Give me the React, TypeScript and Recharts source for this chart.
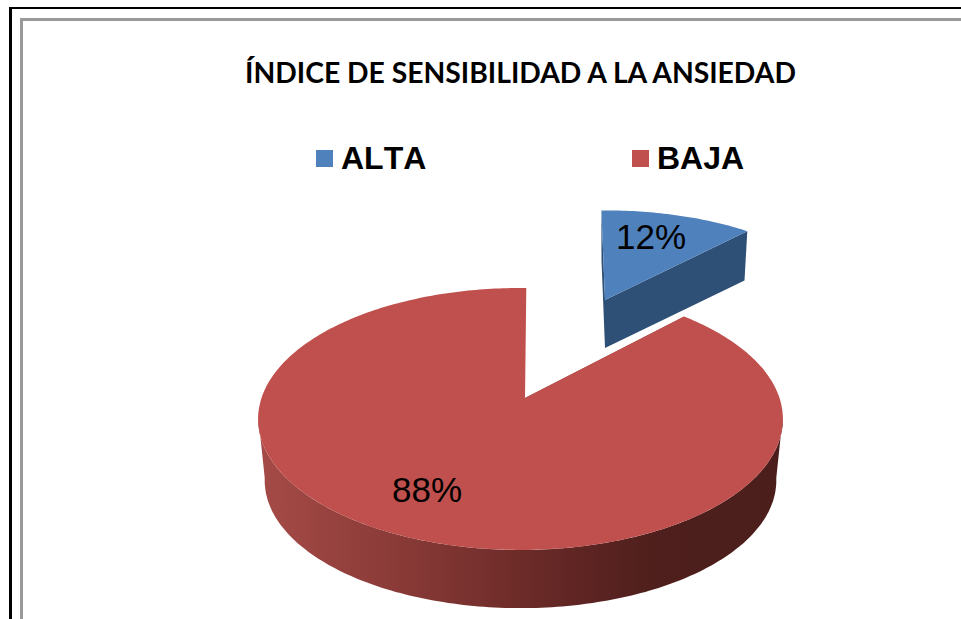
import React from 'react';
import { PieChart, Pie, Legend } from 'recharts';

const TITLE = 'ÍNDICE DE SENSIBILIDAD A LA ANSIEDAD';
const CATEGORIES = ['ALTA', 'BAJA'];
const VALUES = [12, 88];
const COLORS = ['#4F81BD', '#C0504D'];

const data = CATEGORIES.map((name, i) => ({ name, value: VALUES[i], fill: COLORS[i] }));

// fake 3D: perspective flattening of the circle, plus per slice tweaks
const TILT = 0.4927;
const PERSPECTIVE = 0.16;

interface SliceLook {
  dx: number;
  dy: number;
  scale: number;
  flatten: number;
  spin: number;
  apexDx: number;
  depth: number;
  depthScale: number;
  labelX: number;
  labelY: number;
}

const LOOK: Record<string, SliceLook> = {
  ALTA: { dx: 84.5, dy: -98, scale: 0.915, flatten: 0.89, spin: -1, apexDx: 0, depth: 48, depthScale: 0.98, labelX: 651, labelY: 236 },
  BAJA: { dx: 0, dy: 0, scale: 1, flatten: 1, spin: 1.5, apexDx: 4.5, depth: 62, depthScale: 0.975, labelX: 427, labelY: 489 },
};

const toPath = (pts: number[][]) => pts.map((p, i) => `${i ? 'L' : 'M'}${p[0].toFixed(1)},${p[1].toFixed(1)}`).join(' ') + ' Z';

const Slice3D = (props: any) => {
  const { cx, cy, outerRadius, startAngle, endAngle, fill, name } = props;
  const look = LOOK[name];
  const from = 90 - startAngle + look.spin;
  const to = 90 - endAngle + look.spin;

  const rim = (deg: number, scale: number, drop: number) => {
    const t = (deg * Math.PI) / 180;
    const u = Math.sin(t);
    const v = -Math.cos(t);
    const k = 1 / (1 - PERSPECTIVE * v);
    return [
      cx + look.dx + outerRadius * scale * u * k,
      cy + look.dy + drop + outerRadius * TILT * look.flatten * scale * v * k,
    ];
  };
  const arc = (a: number, b: number, scale: number, drop: number) => {
    const pts: number[][] = [];
    const n = Math.max(2, Math.ceil(Math.abs(b - a)));
    for (let i = 0; i <= n; i++) pts.push(rim(a + ((b - a) * i) / n, scale, drop));
    return pts;
  };

  const apex = [cx + look.dx + look.apexDx, cy + look.dy];
  const apexLow = [apex[0], apex[1] + look.depth];
  const lowScale = look.scale * look.depthScale;

  const topFace = [apex, ...arc(from, to, look.scale, 0)];
  const startFace = [rim(from, look.scale, 0), apex, apexLow, rim(from, lowScale, look.depth)];
  const endFace = [rim(to, look.scale, 0), apex, apexLow, rim(to, lowScale, look.depth)];

  // outer wall, only the part facing the viewer
  const wallFrom = Math.max(from, 98);
  const wallTo = Math.min(to, 262);
  const wall = wallTo > wallFrom
    ? [...arc(wallFrom, wallTo, look.scale, 0), ...arc(wallTo, wallFrom, lowScale, look.depth)]
    : null;

  const isBlue = name === 'ALTA';

  return (
    <g>
      <defs>
        <linearGradient id="redWall" x1="0" y1="0" x2="1" y2="0">
          <stop offset="0" stopColor="#A64B47" />
          <stop offset="0.27" stopColor="#893A37" />
          <stop offset="0.46" stopColor="#722E2B" />
          <stop offset="0.65" stopColor="#5A2321" />
          <stop offset="0.76" stopColor="#4E1F1C" />
          <stop offset="1" stopColor="#4B1E1C" />
        </linearGradient>
      </defs>
      {wall && <path d={toPath(wall)} fill="url(#redWall)" />}
      <path d={toPath(startFace)} fill={isBlue ? '#2F5076' : '#8A3A37'} />
      {isBlue && <path d={toPath(endFace)} fill="#2F5076" />}
      <path d={toPath(topFace)} fill={fill} />
    </g>
  );
};

const renderLabel = (props: any) => {
  const look = LOOK[props.name];
  return (
    <text
      x={look.labelX}
      y={look.labelY}
      textAnchor="middle"
      dominantBaseline="central"
      fontFamily="Liberation Sans"
      fontSize={35}
      fill="#000"
    >
      {`${Math.round(props.percent * 100)}%`}
    </text>
  );
};

const LEGEND_X = [316, 632];

const renderLegend = (props: any) => (
  <div style={{ position: 'relative', width: 961, height: 40 }}>
    {(props.payload || []).map((item: any, i: number) => (
      <div key={item.value} style={{ position: 'absolute', left: LEGEND_X[i], top: 0, display: 'flex', alignItems: 'center', height: 40 }}>
        <span style={{ width: 17, height: 17, background: item.color, display: 'inline-block', marginRight: 8 }} />
        <span style={{ fontFamily: 'Liberation Sans', fontWeight: 700, fontSize: 32, fontKerning: 'none', color: '#000' }}>{item.value}</span>
      </div>
    ))}
  </div>
);

export default function App() {
  return (
    <div style={{ position: 'absolute', left: 0, top: 0, width: 961, height: 619, overflow: 'hidden', background: '#fff' }}>
      <div style={{ position: 'absolute', left: 9, top: 7, width: 1000, height: 700, borderLeft: '3px solid #000', borderTop: '2px solid #000' }} />
      <div style={{ position: 'absolute', left: 20, top: 18, width: 1000, height: 700, borderLeft: '3px solid #999', borderTop: '3px solid #999' }} />
      <div style={{ position: 'absolute', left: 0, top: 0 }}>
        <PieChart width={961} height={619} margin={{ top: 0, right: 0, bottom: 0, left: 0 }}>
          <text x={520.5} y={83} textAnchor="middle" fontFamily="Lato" fontWeight={700} fontSize={28.3} fill="#000">
            {TITLE}
          </text>
          <Legend
            content={renderLegend}
            wrapperStyle={{ position: 'absolute', left: 0, top: 138, width: 961, height: 40 }}
          />
          <Pie
            data={data}
            dataKey="value"
            nameKey="name"
            cx={520.5}
            cy={398}
            innerRadius={0}
            outerRadius={259}
            startAngle={90}
            endAngle={-270}
            stroke="none"
            shape={Slice3D}
            label={renderLabel}
            labelLine={false}
            isAnimationActive={false}
          />
        </PieChart>
      </div>
    </div>
  );
}
